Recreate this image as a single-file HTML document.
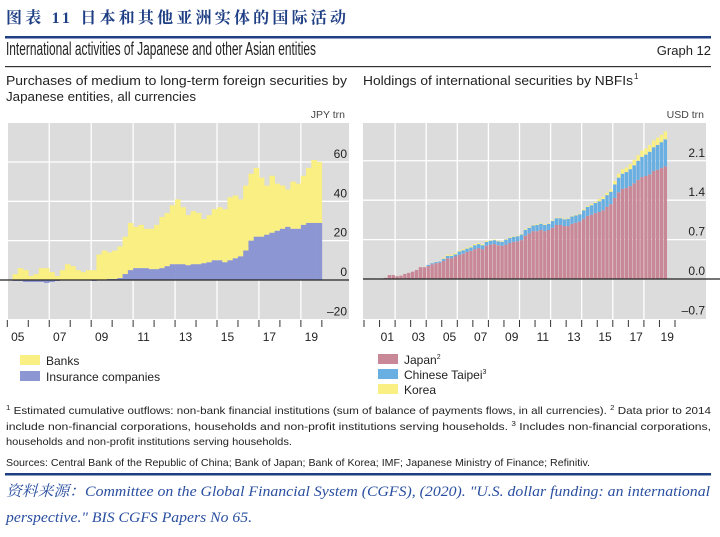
<!DOCTYPE html>
<html><head><meta charset="utf-8"><style>
html,body{margin:0;padding:0;background:#fff;}
svg{display:block;}
text{font-family:"Liberation Sans","Noto Sans CJK SC",sans-serif;}
</style></head><body>
<svg id="root" width="720" height="537" viewBox="0 0 720 537" xmlns="http://www.w3.org/2000/svg">
<text x="6" y="23" font-size="16" font-weight="bold" fill="#1f3f85" style="font-family:'Liberation Serif','Noto Serif CJK SC',serif" textLength="340" lengthAdjust="spacing">图表 11  日本和其他亚洲实体的国际活动</text>
<rect x="5" y="36" width="706" height="2.5" fill="#1f3f85"/>
<text x="6" y="55" font-size="18" fill="#222" textLength="310" lengthAdjust="spacingAndGlyphs">International activities of Japanese and other Asian entities</text>
<text x="711" y="55" font-size="13" fill="#222" text-anchor="end">Graph 12</text>
<rect x="5" y="66" width="706" height="1.2" fill="#333"/>
<text x="6" y="85" font-size="13" fill="#222" textLength="341" lengthAdjust="spacingAndGlyphs">Purchases of medium to long-term foreign securities by</text>
<text x="6" y="101" font-size="13" fill="#222" textLength="190" lengthAdjust="spacingAndGlyphs">Japanese entities, all currencies</text>
<text x="363" y="85" font-size="13" fill="#222" textLength="270" lengthAdjust="spacingAndGlyphs">Holdings of international securities by NBFIs</text>
<text x="634" y="79" font-size="8" fill="#222">1</text>
<text x="345" y="118" font-size="10.5" fill="#444" text-anchor="end">JPY trn</text>
<text x="704" y="118" font-size="10.5" fill="#444" text-anchor="end">USD trn</text>
<g id="left"></g>
<g id="right"></g>
<g>
<rect x="20" y="355" width="20" height="10" fill="#f9ef82"/>
<text x="46" y="365" font-size="12" fill="#222">Banks</text>
<rect x="20" y="371" width="20" height="10" fill="#8c96d2"/>
<text x="46" y="381" font-size="12" fill="#222">Insurance companies</text>
</g>
<g>
<rect x="378" y="354" width="20" height="10" fill="#c98897"/>
<text x="404" y="364" font-size="12" fill="#222">Japan<tspan font-size="7" dy="-5">2</tspan></text>
<rect x="378" y="369" width="20" height="10" fill="#6aafe2"/>
<text x="404" y="379" font-size="12" fill="#222">Chinese Taipei<tspan font-size="7" dy="-5">3</tspan></text>
<rect x="378" y="384" width="20" height="10" fill="#f9ef82"/>
<text x="404" y="394" font-size="12" fill="#222">Korea</text>
</g>
<g font-size="10.5" fill="#222">
<text x="6" y="414" textLength="705" lengthAdjust="spacingAndGlyphs"><tspan font-size="7" dy="-4">1</tspan><tspan dy="4"> Estimated cumulative outflows: non-bank financial institutions (sum of balance of payments flows, in all currencies).  </tspan><tspan font-size="7" dy="-4">2</tspan><tspan dy="4"> Data prior to 2014</tspan></text>
<text x="6" y="430" textLength="705" lengthAdjust="spacingAndGlyphs">include non-financial corporations, households and non-profit institutions serving households. <tspan font-size="7" dy="-4">3</tspan><tspan dy="4"> Includes non-financial corporations,</tspan></text>
<text x="6" y="445" textLength="286" lengthAdjust="spacingAndGlyphs">households and non-profit institutions serving households.</text>
<text x="6" y="466" textLength="584" lengthAdjust="spacingAndGlyphs">Sources: Central Bank of the Republic of China; Bank of Japan; Bank of Korea; IMF; Japanese Ministry of Finance; Refinitiv.</text>
</g>
<rect x="5" y="473" width="706" height="2.5" fill="#1f3f85"/>
<text x="6" y="496" font-size="15" font-style="italic" fill="#2a4fa0" style="font-family:'Liberation Serif','Noto Serif CJK SC',serif" textLength="704" lengthAdjust="spacingAndGlyphs">资料来源：Committee on the Global Financial System (CGFS), (2020). "U.S. dollar funding: an international</text>
<text x="6" y="522" font-size="15" font-style="italic" fill="#2a4fa0" style="font-family:'Liberation Serif',serif" textLength="246" lengthAdjust="spacingAndGlyphs">perspective." BIS CGFS Papers No 65.</text>
</svg>
<script>
// Left chart data: quarterly, 2005Q1 .. 2019Q4 (JPY trn)
const leftYTicks = [60, 40, 20, 0, -20];
const leftYearLabels = ["05","07","09","11","13","15","17","19"];
const banks = [0,3,6,5, 2,3,6,6, 4,2,5,8, 7,5,4,5, 5,13,15,13.5, 14.5,16,19,24, 21,22,20,20.5, 22.5,26,27,30, 33,29,25.5,27, 26,22.5,24,26, 27,27,32,32, 29,33,34,35, 30,25,29,24, 22,19,24,23, 25,28,32,31];
const insurance = [0,-0.5,-0.5,-1, -1,-1,-1,-1.5, -1,-0.5,0,0, 0,0,0,0, -0.5,0,0,0.5, 0.5,1,3,5, 6,6,6,5.5, 5.5,6,7,8, 8,8,7.5,8, 8,8.5,9,10, 10,9,10,11, 12,15,20,22, 22,23,24,25, 26,27,26,26, 28,29,29,29];
// Right chart data: quarterly, 2000Q1 .. 2019Q2 (USD trn)
const rightYTicks = ["2.1","1.4","0.7","0.0","-0.7"];
const rightYearLabels = ["01","03","05","07","09","11","13","15","17","19"];
const japan = [.01,.01,.01,0, .01,.02,.07,.07, .05,.06,.09,.11, .13,.16,.21,.21, .23,.26,.28,.29, .32,.37,.37,.4, .43,.45,.48,.5, .53,.55,.53,.59, .61,.62,.6,.59, .61,.64,.66,.67, .69,.77,.81,.85, .85,.87,.85,.87, .91,.96,.96,.94, .94,.98,1.0,1.02, 1.07,1.12,1.14,1.17, 1.19,1.22,1.28,1.33, 1.44,1.54,1.6,1.62, 1.65,1.7,1.76,1.81, 1.83,1.86,1.92,1.94, 1.97,2.0];
const taipei = [0,0,0,0, 0,0,0,0, 0,0,0,0, 0,0,0,0, .02,.02,.02,.02, .04,.04,.04,.04, .06,.06,.06,.06, .07,.07,.07,.07, .07,.07,.07,.07, .09,.09,.09,.09, .1,.1,.1,.1, .11,.11,.11,.11, .12,.12,.12,.12, .13,.13,.13,.13, .15,.16,.17,.18, .19,.2,.21,.22, .24,.26,.27,.28, .3,.32,.34,.36, .38,.4,.42,.44, .46,.48];
const korea = [0,0,0,0, 0,0,0,0, 0,0,0,0, 0,0,0,0, 0,0,0,0, .02,.02,.02,.02, .02,.02,.02,.02, .02,.02,.02,.02, .01,.01,.01,.01, .01,.01,.01,.01, .01,.01,.01,.01, .01,.01,.01,.01, .01,.01,.01,.01, .01,.01,.01,.01, .02,.02,.02,.02, .04,.04,.04,.04, .06,.07,.08,.08, .09,.1,.1,.11, .11,.12,.12,.13, .13,.14];

const NS = "http://www.w3.org/2000/svg";
function mk(parent, tag, attrs) {
  const e = document.createElementNS(NS, tag);
  for (const k in attrs) e.setAttribute(k, attrs[k]);
  parent.appendChild(e);
  return e;
}

// ---------- LEFT ----------
(function(){
  const g = document.getElementById('left');
  const L = {x0: 8, x1: 349, y0: 123, y1: 319};
  const xL = t => 7.3 + (t - 2005) * 20.97;
  const yL = v => 280 - v * 1.967;
  const bg = mk(g, 'rect', {x: L.x0, y: L.y0, width: L.x1 - L.x0, height: L.y1 - L.y0, fill: '#dcdcdc'});
  
  
  leftYTicks.forEach(v => {
    if (v !== 0 && v !== -20) {
      const l = mk(g, 'line', {x1: L.x0, x2: L.x1, y1: yL(v), y2: yL(v), stroke: '#fff', 'stroke-width': 1.3});
      
      
    }
  });
  for (let yr = 2007; yr <= 2019; yr += 2) {
    const l = mk(g, 'line', {x1: xL(yr), x2: xL(yr), y1: L.y0, y2: L.y1, stroke: '#fff', 'stroke-width': 1.3});
    
    
  }
  const w = 20.97 / 4;
  banks.forEach((b, i) => {
    const t = 2005 + i / 4;
    const ins = insurance[i];
    const base = Math.max(ins, 0);
    const top = base + b;
    const r = mk(g, 'rect', {x: xL(t), y: yL(top), width: w + 0.3, height: Math.max(0, yL(base) - yL(top)), fill: '#f9ef82'});
    
    
    const y1 = Math.min(yL(0), yL(ins)), y2 = Math.max(yL(0), yL(ins));
    const r2 = mk(g, 'rect', {x: xL(t), y: y1, width: w + 0.3, height: y2 - y1, fill: '#8c96d2'});
    
    
  });
  const z = mk(g, 'line', {x1: 0, x2: L.x1, y1: yL(0), y2: yL(0), stroke: '#222', 'stroke-width': 1.2});
  
  
  leftYTicks.forEach(v => {
    const t = mk(g, 'text', {x: 347, y: yL(v) - 4, 'font-size': 12, fill: '#222', 'text-anchor': 'end'});
    t.textContent = v < 0 ? '\u2013' + Math.abs(v) : String(v);
    
    
  });
  for (let yr = 2005; yr <= 2020; yr++) {
    const tk = mk(g, 'line', {x1: xL(yr), x2: xL(yr), y1: 320, y2: 327, stroke: '#333', 'stroke-width': 1});
    
    
  }
  leftYearLabels.forEach(s => {
    const yr = 2000 + parseInt(s, 10);
    const t = mk(g, 'text', {x: xL(yr + 0.5), y: 341, 'font-size': 12, fill: '#222', 'text-anchor': 'middle'});
    t.textContent = s;
    
    
  });
})();

// ---------- RIGHT ----------
(function(){
  const g = document.getElementById('right');
  const R = {x0: 363, x1: 706, y0: 123, y1: 319};
  const xR = t => 364 + (t - 2000) * 15.55;
  const yR = v => 279 - v * 56.3;
  const bg = mk(g, 'rect', {x: R.x0, y: R.y0, width: R.x1 - R.x0, height: R.y1 - R.y0, fill: '#dcdcdc'});
  
  
  rightYTicks.forEach(s => {
    const v = parseFloat(s);
    if (v > 0) {
      const l = mk(g, 'line', {x1: R.x0, x2: R.x1, y1: yR(v), y2: yR(v), stroke: '#fff', 'stroke-width': 1.3});
      
      
    }
  });
  for (let yr = 2002; yr <= 2018; yr += 2) {
    const l = mk(g, 'line', {x1: xR(yr), x2: xR(yr), y1: R.y0, y2: R.y1, stroke: '#fff', 'stroke-width': 1.3});
    
    
  }
  const w = 15.55 / 4;
  japan.forEach((j, i) => {
    const t = 2000 + i / 4;
    const tp = taipei[i], k = korea[i];
    const segs = [[0, j, '#c98897', 'bar-japan'], [j, j + tp, '#6aafe2', 'bar-taipei'], [j + tp, j + tp + k, '#f9ef82', 'bar-korea']];
    segs.forEach(s => {
      if (s[1] - s[0] <= 0) return;
      const r = mk(g, 'rect', {x: xR(t) + 0.3, y: yR(s[1]), width: w - 0.5, height: yR(s[0]) - yR(s[1]), fill: s[2]});
      
      
    });
  });
  const z = mk(g, 'line', {x1: R.x0, x2: 720, y1: yR(0), y2: yR(0), stroke: '#222', 'stroke-width': 1.2});
  
  
  rightYTicks.forEach(s => {
    const v = parseFloat(s);
    const t = mk(g, 'text', {x: 705, y: yR(v) - 4, 'font-size': 12, fill: '#222', 'text-anchor': 'end'});
    t.textContent = v < 0 ? '\u2013' + s.slice(1) : s;
    
    
  });
  for (let yr = 2000; yr <= 2020; yr++) {
    const tk = mk(g, 'line', {x1: xR(yr), x2: xR(yr), y1: 320, y2: 327, stroke: '#333', 'stroke-width': 1});
    
    
  }
  rightYearLabels.forEach(s => {
    const yr = 2000 + parseInt(s, 10);
    const t = mk(g, 'text', {x: xR(yr + 0.5), y: 341, 'font-size': 12, fill: '#222', 'text-anchor': 'middle'});
    t.textContent = s;
    
    
  });
})();
</script>
</body></html>
